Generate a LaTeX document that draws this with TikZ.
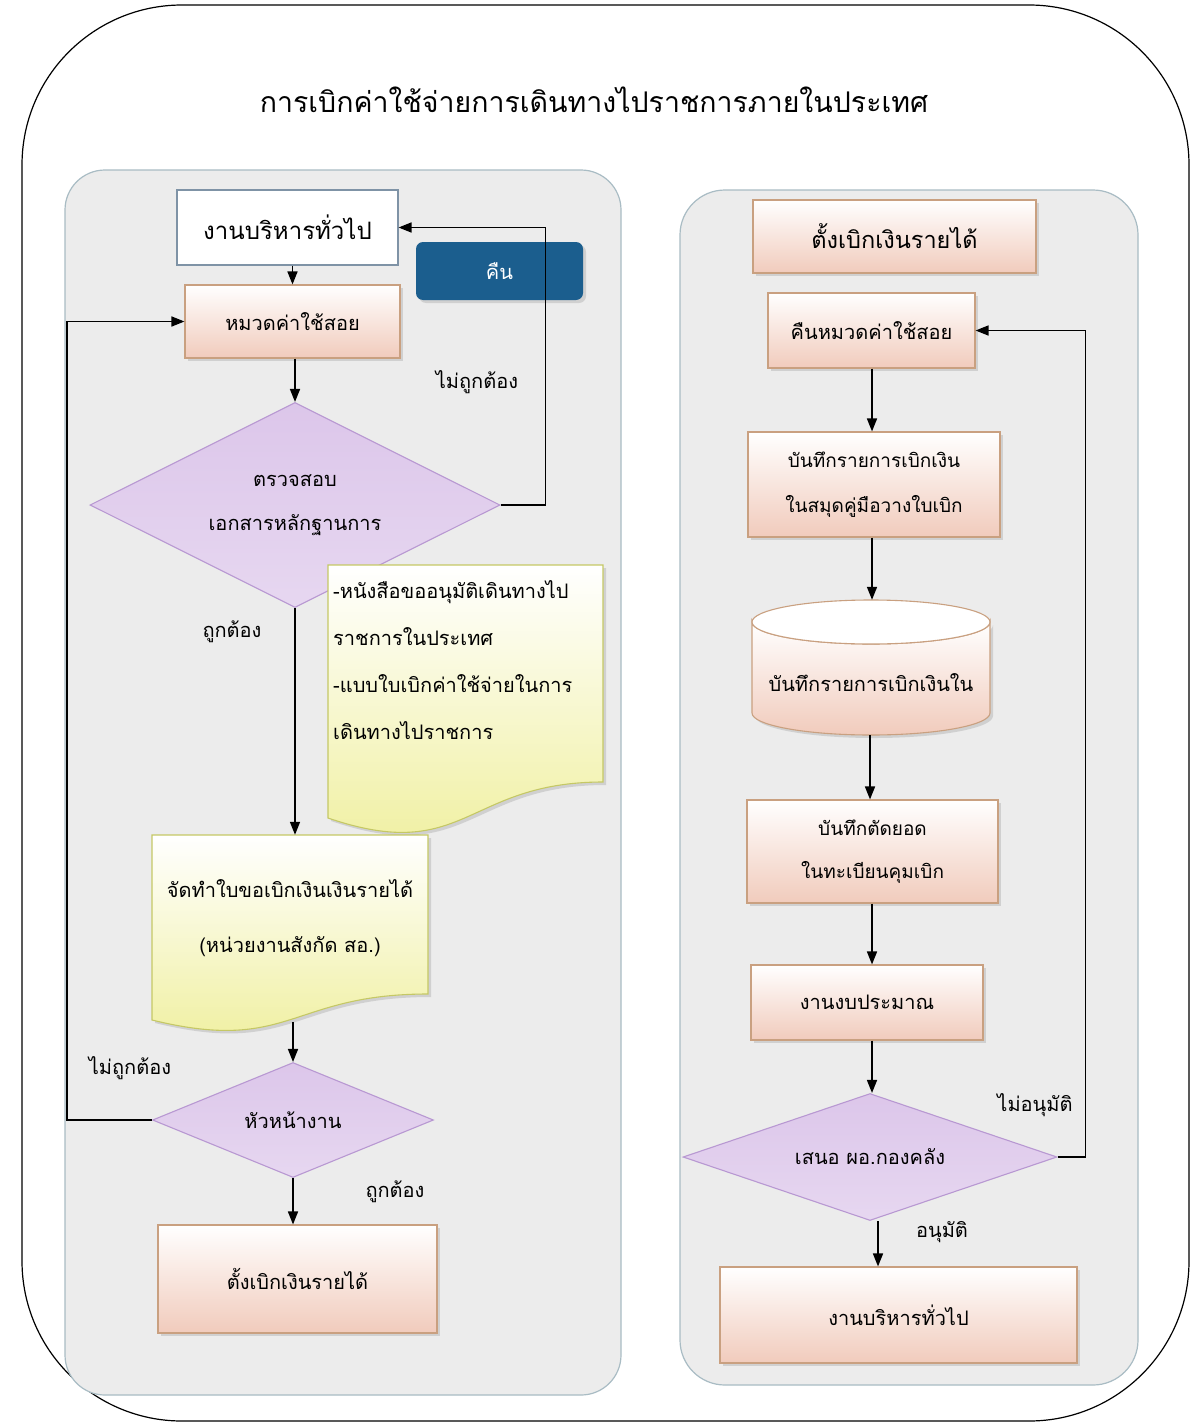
\documentclass[tikz,border=0pt]{standalone}
\usepackage{fontspec}
\newfontfamily\thai[Script=Thai]{Loma}
\usetikzlibrary{arrows.meta,shapes.geometric,shadows,calc}
\definecolor{panelfill}{HTML}{ECECEC}
\definecolor{paneledge}{HTML}{A9BCC4}
\definecolor{peach}{HTML}{F1CBBC}
\definecolor{boxedge}{HTML}{C9A080}
\definecolor{lav}{HTML}{DCC6EA}
\definecolor{lavedge}{HTML}{B898D2}
\definecolor{btnblue}{HTML}{1B5E8E}
\definecolor{docyel}{HTML}{EFEF9C}
\definecolor{docedge}{HTML}{C5C865}
\definecolor{plainedge}{HTML}{7F93A6}
\begin{document}
\begin{tikzpicture}[x=1pt,y=-1pt,
  tx/.style={font=\thai\fontsize{#1}{#1}\selectfont},
  tx/.default=20,
  shad/.style={drop shadow={opacity=0.25,shadow xshift=3pt,shadow yshift=-3pt}},
  peachbox/.style={draw=boxedge,line width=1.1pt,top color=white,bottom color=peach,shad,
    inner sep=0pt,align=center,tx},
  decision/.style={diamond,draw=lavedge,line width=1.1pt,top color=lav,bottom color=lav!70!white,
    inner sep=0pt,align=center,tx},
  arr/.style={-{Triangle[length=13pt,width=10pt]},line width=1.6pt},
  lbl/.style={tx},
  panel/.style={draw=paneledge,fill=panelfill,line width=1.2pt}]
\useasboundingbox (0,0) rectangle (1192,1426);
\fill[white] (0,0) rectangle (1192,1426);
% outer frame
\draw[line width=1.2pt,rounded corners=160] (22,5) rectangle (1189,1421);
% title
\node[tx=28.5] (title) at (594,100) {การเบิกค่าใช้จ่ายการเดินทางไปราชการภายในประเทศ};
% panels
\draw[panel,rounded corners=40] (65,170) rectangle (621,1395);
\draw[panel,rounded corners=45] (680,190) rectangle (1138,1385);

% ---------- left column ----------
\node[draw=plainedge,fill=white,line width=1.1pt,minimum width=221,minimum height=75,tx=24] (A) at (287.5,227.5) {งานบริหารทั่วไป};
\node[peachbox,minimum width=215,minimum height=73] (B) at (292.5,321.5) {หมวดค่าใช้สอย};
\node[fill=btnblue,rounded corners=7,minimum width=167,minimum height=58,text=white,tx=20,shad] (ret) at (499.5,271) {คืน};
\node[decision,shape aspect=2,minimum width=410,minimum height=205,align=center,font=\thai\fontsize{20}{44}\selectfont] (D) at (295,505) {ตรวจสอบ\\เอกสารหลักฐานการ};

% document 1
\shade[top color=white,bottom color=docyel,draw=docedge,line width=1.1pt,shad]
  (328,565) -- (603,565) -- (603,782) .. controls (465.5,782) and (465.5,865) .. (328,818) -- cycle;
\node[anchor=north west,align=left,inner sep=0pt,font=\thai\fontsize{20}{47}\selectfont] (doc1) at (333,580)
  {-หนังสือขออนุมัติเดินทางไป\\ราชการในประเทศ\\-แบบใบเบิกค่าใช้จ่ายในการ\\เดินทางไปราชการ};

% document E
\shade[top color=white,bottom color=docyel,draw=docedge,line width=1.1pt,shad]
  (152,835) -- (428,835) -- (428,994) .. controls (290,994) and (290,1054) .. (152,1020) -- cycle;
\node[minimum width=276,minimum height=190,inner sep=0pt] (E) at (290,930) {};
\node[align=center,inner sep=0pt,font=\thai\fontsize{20}{55}\selectfont] (Etext) at (290,918)
  {จัดทำใบขอเบิกเงินเงินรายได้\\(หน่วยงานสังกัด สอ.)};

\node[decision,shape aspect=2.5,minimum width=281,minimum height=115] (F) at (293,1120) {หัวหน้างาน};
\node[peachbox,minimum width=279,minimum height=108] (G) at (297.5,1279) {ตั้งเบิกเงินรายได้};

% left connectors
\draw[arr] (B.north |- A.south) -- (B.north);
\draw[arr] (B.south -| D.north) -- (D.north);
\draw[arr] (D.east) -- ++(45,0) |- (A.east);
\node[lbl] (l1) at (477,382) {ไม่ถูกต้อง};
\draw[arr] (D.south) -- (E.north -| D.south);
\node[lbl] (l2) at (232,632) {ถูกต้อง};
\draw[arr] (F.north |- 0,1022) -- (F.north);
\draw[arr] (F.west) -- ++(-85,0) |- (B.west);
\node[lbl] (l3) at (130,1068) {ไม่ถูกต้อง};
\draw[arr] (F.south) -- (F.south |- G.north);
\node[lbl] (l4) at (395,1192) {ถูกต้อง};

% ---------- right column ----------
\node[peachbox,minimum width=283,minimum height=73,tx=23.5] (H) at (894.5,236.5) {ตั้งเบิกเงินรายได้};
\node[peachbox,minimum width=207,minimum height=75] (I) at (871.5,330.5) {คืนหมวดค่าใช้สอย};
\node[peachbox,minimum width=252,minimum height=105,font=\thai\fontsize{19}{45}\selectfont] (J) at (874,484.5) {บันทึกรายการเบิกเงิน\\ในสมุดคู่มือวางใบเบิก};

% cylinder K
\node[minimum width=238,minimum height=135,inner sep=0pt] (K) at (871,667.5) {};
\shade[top color=white,bottom color=peach,draw=boxedge,line width=1.1pt,shad]
  (752,622) -- (752,713) arc[start angle=180,end angle=0,x radius=119,y radius=22]
  -- (990,622) arc[start angle=0,end angle=180,x radius=119,y radius=22] -- cycle;
\filldraw[fill=white,draw=boxedge,line width=1.1pt] (871,622) ellipse[x radius=119,y radius=22];
\node[tx] (Ktext) at (871,683) {บันทึกรายการเบิกเงินใน};

\node[peachbox,minimum width=251,minimum height=103,font=\thai\fontsize{19}{43}\selectfont] (L) at (872.5,851.5) {บันทึกตัดยอด\\ในทะเบียนคุมเบิก};
\node[peachbox,minimum width=232,minimum height=75] (M) at (867,1002.5) {งานงบประมาณ};
\node[decision,shape aspect=3,minimum width=374,minimum height=127] (N) at (870,1157) {เสนอ ผอ.กองคลัง};
\node[peachbox,minimum width=357,minimum height=96] (O) at (898.5,1315) {งานบริหารทั่วไป};

% right connectors
\draw[arr] (I.south -| 872,0) -- (J.north -| 872,0);
\draw[arr] (J.south -| 872,0) -- (K.north -| 872,0);
\draw[arr] (K.south -| 870,0) -- (L.north -| 870,0);
\draw[arr] (L.south -| 872,0) -- (M.north -| 872,0);
\draw[arr] (M.south -| 872,0) -- (N.north -| 872,0);
\draw[arr] (N.south -| 878,0) -- (O.north -| 878,0);
\node[lbl] (l5) at (942,1232) {อนุมัติ};
\draw[arr] (N.east) -- ++(28,0) |- (I.east);
\node[lbl] (l6) at (1035,1105) {ไม่อนุมัติ};
\end{tikzpicture}
\end{document}
